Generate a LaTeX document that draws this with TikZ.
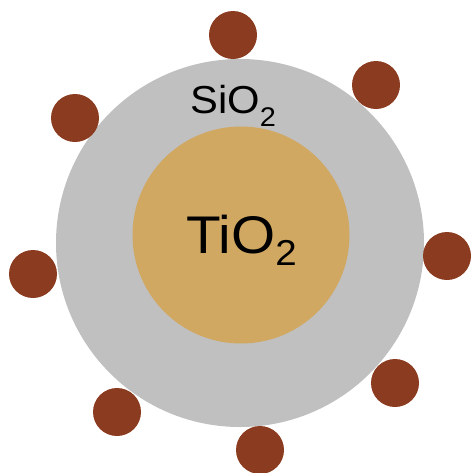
\documentclass[tikz,border=0pt]{standalone}
\usepackage{fontspec}
\setmainfont{Liberation Sans}
\definecolor{shellgray}{HTML}{C0C0C0}
\definecolor{coretan}{HTML}{D0A862}
\definecolor{dotbrown}{HTML}{8B3B1F}
\tikzset{
  particle/.style={circle, fill=dotbrown, draw=none, minimum size=48pt, inner sep=0pt},
  formula/.style={anchor=base west, inner sep=0pt, xscale=1.07},
}
\begin{document}
\begin{tikzpicture}[x=1pt, y=-1pt]
  \useasboundingbox (0,0) rectangle (473,472);
  % silica shell and titania core
  \fill[shellgray] (240,243) circle (184);
  \fill[coretan] (241,235) circle (108.5);
  % labels
  \node[formula] (sio) at (190,113)
    {\fontsize{39}{39}\selectfont SiO\raisebox{-13pt}{\fontsize{27}{27}\selectfont 2}};
  \node[formula] (tio) at (186,253)
    {\fontsize{53}{53}\selectfont TiO\raisebox{-12pt}{\fontsize{36}{36}\selectfont 2}};
  % surface particles
  \node[particle] (p1) at (233,35) {};
  \node[particle] (p2) at (376,85) {};
  \node[particle] (p3) at (75,118) {};
  \node[particle] (p4) at (447,256) {};
  \node[particle] (p5) at (33,274) {};
  \node[particle] (p6) at (395,383) {};
  \node[particle] (p7) at (117,412) {};
  \node[particle] (p8) at (260,450) {};
\end{tikzpicture}
\end{document}
